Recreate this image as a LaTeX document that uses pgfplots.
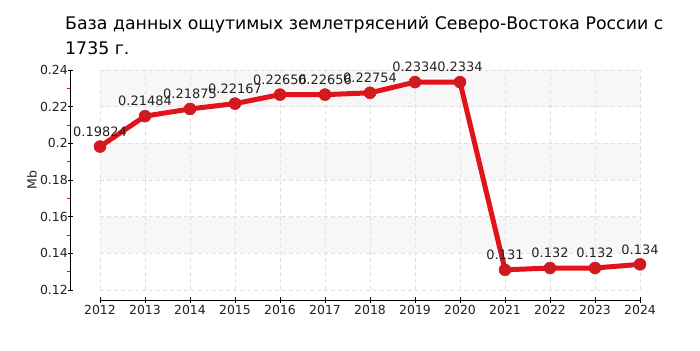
\documentclass[border=0pt]{standalone}
\usepackage{fontspec}
\setmainfont{DejaVu Sans}
\usepackage{pgfplots}
\usepackage{pgfplotstable}
\pgfplotsset{compat=1.18}
\definecolor{linered}{HTML}{E3131B}
\definecolor{markred}{HTML}{D11A20}
\definecolor{bandgray}{HTML}{F7F7F7}
\definecolor{gridgray}{HTML}{E0E0E0}
\definecolor{txt}{HTML}{222222}
\pgfplotstableread{
x y label
2012 0.19824 0.19824
2013 0.21484 0.21484
2014 0.21875 0.21875
2015 0.22167 0.22167
2016 0.22656 0.22656
2017 0.22656 0.22656
2018 0.22754 0.22754
2019 0.2334 0.2334
2020 0.2334 0.2334
2021 0.131 0.131
2022 0.132 0.132
2023 0.132 0.132
2024 0.134 0.134
}\datatable
\begin{document}
\begin{tikzpicture}[x=1bp,y=1bp]
\path (0,0) rectangle (700,350);
\node[anchor=base west, inner sep=0pt, font=\fontsize{17.4}{20}\selectfont, text=black] at (65,321) {База данных ощутимых землетрясений Северо-Востока России с};
\node[anchor=base west, inner sep=0pt, font=\fontsize{17.4}{20}\selectfont, text=black] at (65,296) {1735 г.};
\begin{axis}[
  at={(100bp,60bp)}, anchor=south west,
  scale only axis, width=540bp, height=220bp,
  set layers,
  xmin=2012, xmax=2024, ymin=0.12, ymax=0.24,
  xtick={2012,2013,2014,2015,2016,2017,2018,2019,2020,2021,2022,2023,2024},
  ytick={0.12,0.14,0.16,0.18,0.2,0.22,0.24},
  scaled y ticks=false,
  /pgf/number format/1000 sep={},
  /pgf/number format/assume math mode=true,
  yticklabel={\pgfmathprintnumber[fixed,precision=2]{\tick}},
  grid=major,
  grid style={gridgray, line width=0.8bp, dash pattern=on 4bp off 3bp},
  axis line style={draw=none},
  major tick length=0pt,
  tick style={draw=none},
  ticklabel style={font=\fontsize{12.5}{14}\selectfont, text=txt, inner sep=0pt},
  yticklabel style={anchor=east, xshift=-32bp},
  xticklabel style={anchor=north, yshift=-15bp},
  ylabel={Mb},
  ylabel style={at={(axis description cs:-0.126,0.5)}, anchor=center, rotate=0, font=\fontsize{12.5}{14}\selectfont, text=txt},
  clip=false,
]
\begin{pgfonlayer}{axis background}
\fill[bandgray] (axis cs:2012,0.22) rectangle (axis cs:2024,0.24);
\fill[bandgray] (axis cs:2012,0.18) rectangle (axis cs:2024,0.20);
\fill[bandgray] (axis cs:2012,0.14) rectangle (axis cs:2024,0.16);
\end{pgfonlayer}
\addplot[draw=none, mark=none, nodes near coords, point meta=explicit symbolic,
  every node near coord/.append style={font=\fontsize{13}{15}\selectfont, text=txt, anchor=center, inner sep=0pt, yshift=15bp}]
  table[x=x, y=y, meta=label] {\datatable};
\addplot[linered, line width=5bp, mark=*, mark size=6bp, mark options={fill=markred, draw=markred, line width=0.5bp}]
  table[x=x, y=y] {\datatable};
\end{axis}
% axis spines
\draw[black, line width=1bp] (70,60) -- (70,280);
\foreach \k in {0,...,6} { \draw[black, line width=1bp] (68,{60+\k*220/6}) -- (73,{60+\k*220/6}); }
\foreach \k in {0,...,5} { \draw[red, line width=1bp] (67,{60+(\k+0.5)*220/6}) -- (70,{60+(\k+0.5)*220/6}); }
\draw[black, line width=1bp] (100,50) -- (640,50);
\foreach \k in {0,...,12} { \draw[black, line width=1bp] ({100+\k*45},47.5) -- ({100+\k*45},53); }
\end{tikzpicture}
\end{document}
